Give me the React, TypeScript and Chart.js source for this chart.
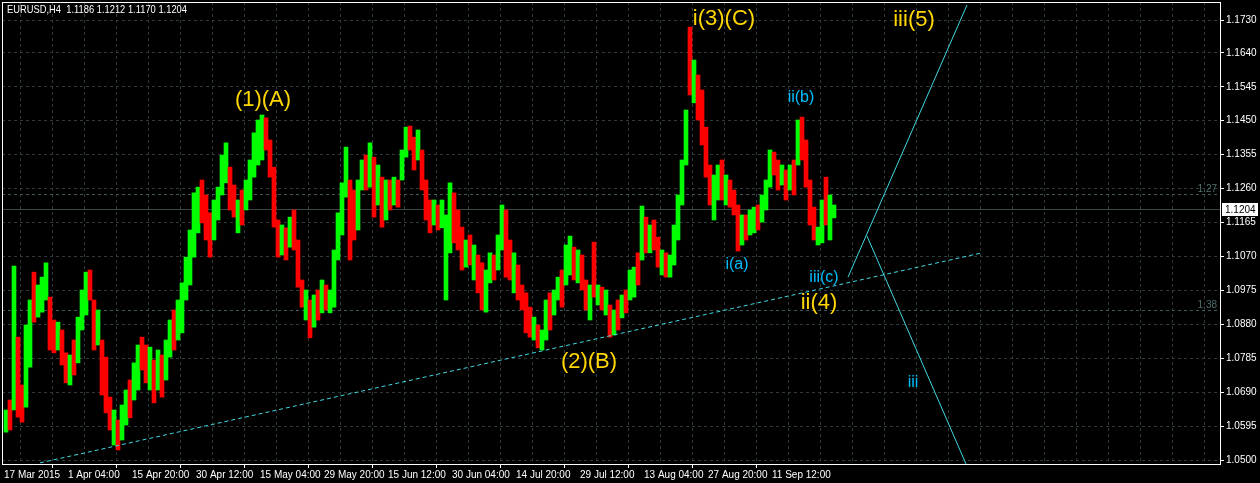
import React, { useEffect, useRef } from "react";
import { Chart, registerables } from "chart.js";

Chart.register(...registerables);

// ---- data (EURUSD H4, one entry per ~4 H4 bars) ----
const highs = [
  1.0640, 1.0668, 1.1043, 1.0844, 1.0710, 1.0878, 1.0948, 1.1026, 1.0990, 1.1012,
  1.1052, 1.0956, 1.0892, 1.0886, 1.0864, 1.0800, 1.0794, 1.0836, 1.0900, 1.0976,
  1.1026, 1.1032, 1.0948, 1.0920, 1.0836, 1.0788, 1.0676, 1.0640, 1.0612, 1.0654,
  1.0696, 1.0724, 1.0772, 1.0822, 1.0844, 1.0822, 1.0816, 1.0780, 1.0808, 1.0794,
  1.0836, 1.0892, 1.0920, 1.0948, 1.0996, 1.1068, 1.1144, 1.1248, 1.1264, 1.1284,
  1.1242, 1.1192, 1.1228, 1.1264, 1.1354, 1.1388, 1.1320, 1.1270, 1.1228, 1.1256,
  1.1284, 1.1340, 1.1416, 1.1452, 1.1466, 1.1458, 1.1396, 1.1320, 1.1172, 1.1158,
  1.1150, 1.1180, 1.1200, 1.1116, 1.1004, 1.0976, 1.0948, 1.0962, 1.0976, 1.1004,
  1.0990, 1.0976, 1.1088, 1.1192, 1.1276, 1.1376, 1.1284, 1.1256, 1.1284, 1.1340,
  1.1354, 1.1388, 1.1348, 1.1326, 1.1292, 1.1284, 1.1284, 1.1292, 1.1284, 1.1368,
  1.1432, 1.1435, 1.1404, 1.1424, 1.1368, 1.1284, 1.1228, 1.1228, 1.1214, 1.1228,
  1.1186, 1.1276, 1.1248, 1.1200, 1.1152, 1.1116, 1.1130, 1.1102, 1.1074, 1.1052,
  1.1032, 1.1080, 1.1074, 1.1130, 1.1214, 1.1200, 1.1116, 1.1080, 1.1046, 1.0990,
  1.0968, 1.0928, 1.0900, 1.0878, 1.0864, 1.0948, 1.0968, 1.0976, 1.1012, 1.1032,
  1.1102, 1.1127, 1.1096, 1.1088, 1.1074, 1.1004, 1.0990, 1.1110, 1.0990, 1.0984,
  1.0976, 1.0934, 1.0920, 1.0948, 1.0962, 1.0976, 1.1032, 1.1040, 1.1080, 1.1211,
  1.1180, 1.1158, 1.1172, 1.1124, 1.1088, 1.1080, 1.1074, 1.1158, 1.1242, 1.1340,
  1.1480, 1.1712, 1.1620, 1.1578, 1.1536, 1.1432, 1.1326, 1.1298, 1.1326, 1.1340,
  1.1298, 1.1284, 1.1256, 1.1214, 1.1186, 1.1186, 1.1200, 1.1208, 1.1214, 1.1242,
  1.1284, 1.1368, 1.1362, 1.1340, 1.1326, 1.1312, 1.1326, 1.1340, 1.1452, 1.1460,
  1.1396, 1.1284, 1.1208, 1.1152, 1.1228, 1.1292, 1.1242, 1.1214,
];

const lows = [
  1.0578, 1.0584, 1.0640, 1.0620, 1.0606, 1.0648, 1.0760, 1.0886, 1.0900, 1.0914,
  1.0948, 1.0808, 1.0800, 1.0808, 1.0766, 1.0716, 1.0710, 1.0738, 1.0772, 1.0864,
  1.0906, 1.0948, 1.0808, 1.0822, 1.0682, 1.0632, 1.0584, 1.0542, 1.0528, 1.0556,
  1.0598, 1.0618, 1.0668, 1.0696, 1.0752, 1.0716, 1.0696, 1.0660, 1.0696, 1.0676,
  1.0724, 1.0788, 1.0808, 1.0836, 1.0856, 1.0948, 1.0990, 1.1068, 1.1136, 1.1164,
  1.1116, 1.1068, 1.1116, 1.1172, 1.1242, 1.1276, 1.1200, 1.1180, 1.1136, 1.1158,
  1.1200, 1.1228, 1.1292, 1.1326, 1.1340, 1.1368, 1.1292, 1.1152, 1.1068, 1.1074,
  1.1060, 1.1096, 1.1088, 1.0984, 1.0928, 1.0892, 1.0842, 1.0872, 1.0892, 1.0912,
  1.0920, 1.0912, 1.0928, 1.1060, 1.1130, 1.1236, 1.1060, 1.1116, 1.1144, 1.1256,
  1.1256, 1.1264, 1.1180, 1.1214, 1.1152, 1.1172, 1.1200, 1.1214, 1.1208, 1.1284,
  1.1348, 1.1368, 1.1312, 1.1340, 1.1256, 1.1172, 1.1136, 1.1158, 1.1144, 1.1150,
  1.0948, 1.1080, 1.1108, 1.1088, 1.1032, 1.1040, 1.1046, 1.1004, 1.0968, 1.0920,
  1.0914, 1.0996, 1.1004, 1.1032, 1.1088, 1.1012, 1.1004, 1.0968, 1.0948, 1.0920,
  1.0856, 1.0844, 1.0836, 1.0814, 1.0808, 1.0836, 1.0864, 1.0906, 1.0948, 1.0928,
  1.0990, 1.1018, 1.1004, 1.0996, 1.0976, 1.0920, 1.0892, 1.0956, 1.0934, 1.0920,
  1.0906, 1.0844, 1.0850, 1.0864, 1.0898, 1.0912, 1.0948, 1.0956, 1.0990, 1.1060,
  1.1080, 1.1080, 1.1088, 1.1040, 1.1018, 1.1012, 1.1012, 1.1046, 1.1116, 1.1214,
  1.1326, 1.1522, 1.1500, 1.1452, 1.1382, 1.1292, 1.1214, 1.1172, 1.1228, 1.1228,
  1.1214, 1.1208, 1.1186, 1.1085, 1.1102, 1.1116, 1.1130, 1.1136, 1.1144, 1.1166,
  1.1200, 1.1264, 1.1298, 1.1256, 1.1270, 1.1228, 1.1256, 1.1242, 1.1326, 1.1340,
  1.1264, 1.1158, 1.1116, 1.1102, 1.1108, 1.1158, 1.1116, 1.1178,
];

// 1 = bullish (green), 0 = bearish (red)
const ups = [
  1, 0, 1, 0, 0, 1, 1, 0, 1, 1,
  1, 0, 0, 1, 0, 0, 1, 0, 1, 1,
  1, 0, 0, 1, 0, 0, 0, 1, 0, 1,
  1, 0, 1, 1, 0, 0, 1, 0, 1, 0,
  1, 1, 0, 1, 1, 1, 1, 1, 1, 0,
  0, 0, 1, 1, 1, 1, 0, 0, 1, 0,
  1, 1, 1, 1, 1, 0, 0, 0, 0, 1,
  0, 1, 0, 0, 0, 1, 0, 1, 0, 1,
  0, 1, 1, 1, 1, 1, 0, 0, 1, 1,
  0, 1, 0, 1, 0, 1, 0, 1, 0, 1,
  1, 0, 0, 1, 0, 0, 0, 1, 0, 1,
  1, 1, 0, 0, 0, 1, 0, 1, 0, 0,
  1, 1, 0, 1, 1, 0, 0, 1, 0, 0,
  0, 0, 1, 0, 1, 1, 0, 1, 1, 0,
  1, 1, 0, 1, 0, 0, 1, 0, 1, 0,
  1, 0, 1, 0, 1, 0, 1, 1, 0, 1,
  0, 1, 0, 0, 1, 0, 1, 1, 1, 1,
  1, 0, 1, 0, 0, 0, 0, 1, 1, 0,
  1, 0, 0, 0, 1, 0, 1, 1, 0, 1,
  1, 1, 0, 0, 1, 0, 1, 0, 1, 0,
  0, 0, 0, 1, 1, 0, 1, 1,
];

const yTicks = [1.05, 1.0595, 1.069, 1.0785, 1.088, 1.0975, 1.107, 1.1165, 1.126, 1.1355, 1.145, 1.1545, 1.164, 1.173];
const xTickLabels = [
  "17 Mar 2015", "1 Apr 04:00", "15 Apr 20:00", "30 Apr 12:00", "15 May 04:00", "29 May 20:00",
  "15 Jun 12:00", "30 Jun 04:00", "14 Jul 20:00", "29 Jul 12:00", "13 Aug 04:00", "27 Aug 20:00", "11 Sep 12:00",
];

const titleText = "EURUSD,H4  1.1186 1.1212 1.1170 1.1204";
const lastPrice = 1.1204;
const fibLevels = [1.1245, 1.092];
const fibNames = ["1.27", "1.38"];

// drawn lines (time index, price)
const supportLine = [{ x: 38, y: 1.0492 }, { x: 980, y: 1.108 }];
const waveUpLine = [{ x: 846, y: 1.1012 }, { x: 965, y: 1.1774 }];
const waveDownLine = [{ x: 865, y: 1.1127 }, { x: 964, y: 1.0489 }];

// wave labels
const annTexts = ["(1)(A)", "(2)(B)", "i(3)(C)", "iii(5)", "ii(4)", "ii(b)", "i(a)", "iii(c)", "iii"];
const annX = [261, 587, 722, 912, 817, 799, 735, 822, 911];
const annY = [1.1508, 1.0774, 1.1735, 1.1732, 1.094, 1.1514, 1.1046, 1.101, 1.0718];
const annBig = [1, 1, 1, 1, 1, 0, 0, 0, 0];

const X_MIN = 0;
const X_MAX = 1218;
const Y_MIN = 1.04888;
const Y_MAX = 1.17824;
const BAR_START = 4;
const BAR_STEP = 4;
const GRID_STEP = 32;
const GRID_START = 2;

const FONT = "'Liberation Sans', Arial, sans-serif";
const GRID = "#2f3b3b";
const YELLOW = "#ffd700";
const CYAN_TXT = "#00bfff";
const LINE_CLR = "#40d8e0";

const xGrid: number[] = [];
for (let v = GRID_START; v <= X_MAX; v += GRID_STEP) xGrid.push(v);

const mtPlugin = {
  id: "mtDecor",
  beforeDraw(chart: any) {
    const { ctx, width, height } = chart;
    ctx.save();
    ctx.fillStyle = "#000";
    ctx.fillRect(0, 0, width, height);
    ctx.restore();
  },
  beforeDatasetsDraw(chart: any) {
    const { ctx, chartArea: a, scales } = chart;
    const y = scales.y;
    ctx.save();
    ctx.lineWidth = 1;
    fibLevels.forEach((lv, i) => {
      const py = Math.round(y.getPixelForValue(lv)) + 0.5;
      ctx.strokeStyle = "#3e5a5a";
      ctx.setLineDash([3, 3]);
      ctx.beginPath();
      ctx.moveTo(a.left, py);
      ctx.lineTo(a.right, py);
      ctx.stroke();
      ctx.setLineDash([]);
      ctx.fillStyle = "#4f6e6e";
      ctx.font = `10px ${FONT}`;
      ctx.textAlign = "right";
      ctx.textBaseline = "bottom";
      ctx.fillText(fibNames[i], a.right - 3, py);
    });
    const pp = Math.round(y.getPixelForValue(lastPrice)) + 0.5;
    ctx.strokeStyle = "#3a4545";
    ctx.setLineDash([]);
    ctx.beginPath();
    ctx.moveTo(a.left, pp);
    ctx.lineTo(a.right, pp);
    ctx.stroke();
    ctx.restore();
  },
  afterDraw(chart: any) {
    const { ctx, chartArea: a, scales } = chart;
    const x = scales.x;
    const y = scales.y;
    ctx.save();
    // frame
    ctx.strokeStyle = "#ffffff";
    ctx.lineWidth = 1;
    ctx.setLineDash([]);
    ctx.strokeRect(a.left + 0.5, a.top + 0.5, a.right - a.left, a.bottom - a.top);
    // last price box
    const pp = Math.round(y.getPixelForValue(lastPrice));
    ctx.fillStyle = "#ffffff";
    ctx.fillRect(a.right + 2, pp - 6, 36, 13);
    ctx.fillStyle = "#000000";
    ctx.font = `10px ${FONT}`;
    ctx.textAlign = "left";
    ctx.textBaseline = "middle";
    ctx.fillText(lastPrice.toFixed(4), a.right + 5, pp + 1);
    // title
    ctx.fillStyle = "#ffffff";
    ctx.font = `11px ${FONT}`;
    const w = ctx.measureText(titleText).width;
    ctx.save();
    ctx.translate(7, 10);
    ctx.scale(180 / w, 1);
    ctx.textBaseline = "middle";
    ctx.fillText(titleText, 0, 0);
    ctx.restore();
    // wave labels
    ctx.textAlign = "center";
    ctx.textBaseline = "middle";
    annTexts.forEach((t, i) => {
      ctx.fillStyle = annBig[i] ? YELLOW : CYAN_TXT;
      ctx.font = annBig[i] ? `22px ${FONT}` : `16px ${FONT}`;
      ctx.fillText(t, x.getPixelForValue(annX[i]), y.getPixelForValue(annY[i]));
    });
    ctx.restore();
  },
};

export default function App() {
  const ref = useRef<HTMLCanvasElement>(null);
  useEffect(() => {
    const canvas = ref.current;
    if (!canvas) return;
    const barData = highs.map((h, i) => ({ x: BAR_START + i * BAR_STEP, y: [lows[i], h] }));
    const barColors = ups.map((u) => (u ? "#00ff00" : "#ff0000"));
    const chart = new Chart(canvas, {
      type: "bar",
      data: {
        datasets: [
          {
            type: "line",
            data: supportLine,
            borderColor: LINE_CLR,
            borderWidth: 1,
            borderDash: [4, 3],
            pointRadius: 0,
            order: 0,
          } as any,
          {
            type: "line",
            data: waveUpLine,
            borderColor: LINE_CLR,
            borderWidth: 1,
            pointRadius: 0,
            order: 0,
          } as any,
          {
            type: "line",
            data: waveDownLine,
            borderColor: LINE_CLR,
            borderWidth: 1,
            pointRadius: 0,
            order: 0,
          } as any,
          {
            type: "bar",
            data: barData as any,
            backgroundColor: barColors,
            borderWidth: 0,
            barPercentage: 1,
            categoryPercentage: 1,
            order: 1,
          } as any,
        ],
      },
      options: {
        responsive: false,
        devicePixelRatio: 1,
        animation: false,
        events: [],
        layout: { padding: { left: 2, top: 2, right: 0, bottom: 0 } },
        plugins: { legend: { display: false }, tooltip: { enabled: false }, title: { display: false } },
        scales: {
          x: {
            type: "linear",
            min: X_MIN,
            max: X_MAX,
            offset: false,
            afterBuildTicks: (s: any) => {
              s.ticks = xGrid.map((v) => ({ value: v }));
            },
            afterFit: (s: any) => {
              s.height = 19;
              s.paddingLeft = 0;
              s.paddingRight = 0;
            },
            grid: {
              color: GRID,
              lineWidth: 1,
              tickLength: 4,
              tickColor: (c: any) =>
                c.index % 2 === 0 && c.index / 2 < xTickLabels.length ? "#ffffff" : "rgba(0,0,0,0)",
            },
            border: { display: false, dash: [3, 3] },
            ticks: {
              autoSkip: false,
              maxRotation: 0,
              minRotation: 0,
              align: "start",
              padding: 1,
              color: "#ffffff",
              font: { family: FONT, size: 10 },
              callback: (_v: any, i: number) => (i % 2 === 0 ? xTickLabels[i / 2] ?? "" : ""),
            },
          },
          y: {
            type: "linear",
            position: "right",
            min: Y_MIN,
            max: Y_MAX,
            afterBuildTicks: (s: any) => {
              s.ticks = yTicks.map((v) => ({ value: v }));
            },
            afterFit: (s: any) => {
              s.width = 40;
              s.paddingTop = 0;
              s.paddingBottom = 0;
            },
            grid: { color: GRID, lineWidth: 1, tickLength: 4, tickColor: "#ffffff" },
            border: { display: false, dash: [3, 3] },
            ticks: {
              crossAlign: "near",
              padding: 2,
              color: "#ffffff",
              font: { family: FONT, size: 10 },
              callback: (v: any) => Number(v).toFixed(4),
            },
          },
        },
      } as any,
      plugins: [mtPlugin],
    });
    return () => chart.destroy();
  }, []);
  return (
    <div style={{ position: "absolute", left: 0, top: 0, width: 1260, height: 483, background: "#000" }}>
      <canvas ref={ref} width={1260} height={483} style={{ display: "block" }} />
    </div>
  );
}
